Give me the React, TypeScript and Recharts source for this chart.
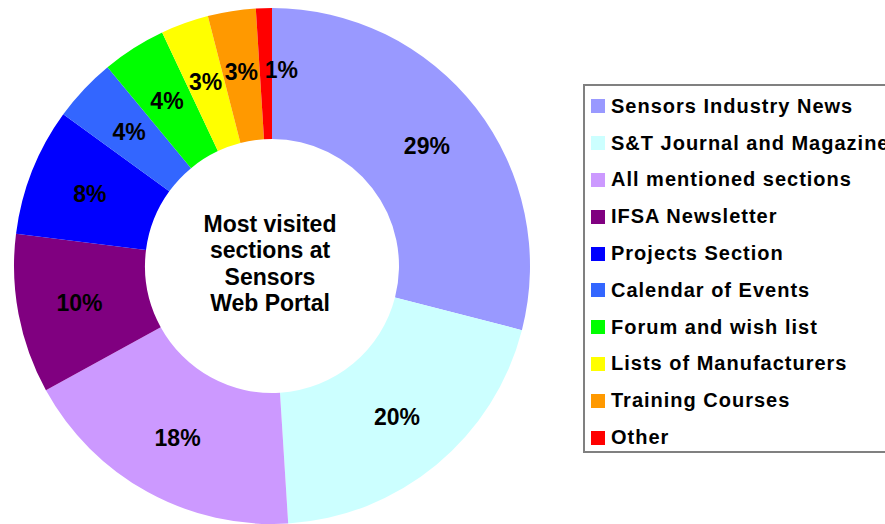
import { PieChart, Pie, Cell } from 'recharts';

const sections = [
  'Sensors Industry News',
  'S&T Journal and Magazine',
  'All mentioned sections',
  'IFSA Newsletter',
  'Projects Section',
  'Calendar of Events',
  'Forum and wish list',
  'Lists of Manufacturers',
  'Training Courses',
  'Other',
];
const shares = [29, 20, 18, 10, 8, 4, 4, 3, 3, 1];
const COLORS = [
  '#9999FF',
  '#CCFFFF',
  '#CC99FF',
  '#800080',
  '#0000FF',
  '#3366FF',
  '#00FF00',
  '#FFFF00',
  '#FF9900',
  '#FF0000',
];
const centerLines = ['Most visited', 'sections at', 'Sensors', 'Web Portal'];

const data = sections.map((name, i) => ({ name, value: shares[i] }));

const FONT = 'Arial, "Liberation Sans", Helvetica, sans-serif';
const RAD = Math.PI / 180;

const renderLabel = (props: any) => {
  const { cx, cy, midAngle, value, percent } = props;
  const r = 196;
  const x = cx + r * Math.cos(-midAngle * RAD);
  const y = cy + r * Math.sin(-midAngle * RAD);
  // very thin slices: push the label off to the side like the original
  const thin = percent < 0.02;
  return (
    <text
      x={thin ? x - 1 : x}
      y={y}
      textAnchor={thin ? 'start' : 'middle'}
      dominantBaseline='central'
      fill='#000'
      fontFamily={FONT}
      fontWeight='bold'
      fontSize={23}
    >
      {`${value}%`}
    </text>
  );
};

export default function App() {
  return (
    <div
      style={{
        position: 'absolute',
        left: 0,
        top: 0,
        width: 885,
        height: 524,
        background: '#fff',
        overflow: 'hidden',
      }}
    >
      <PieChart
        width={885}
        height={524}
        margin={{ top: 0, right: 0, bottom: 0, left: 0 }}
      >
        <Pie
          data={data}
          dataKey='value'
          nameKey='name'
          cx={272}
          cy={266}
          innerRadius={127}
          outerRadius={258}
          startAngle={90}
          endAngle={-270}
          stroke='none'
          label={renderLabel}
          labelLine={false}
          isAnimationActive={false}
        >
          {data.map((_, i) => (
            <Cell key={`cell-${i}`} fill={COLORS[i % COLORS.length]} />
          ))}
        </Pie>
      </PieChart>

      <div
        style={{
          position: 'absolute',
          left: 170,
          top: 211,
          width: 200,
          textAlign: 'center',
          fontFamily: FONT,
          fontWeight: 'bold',
          fontSize: 23,
          lineHeight: '26.3px',
          color: '#000',
        }}
      >
        {centerLines.map((line) => (
          <div key={line}>{line}</div>
        ))}
      </div>

      <div
        style={{
          position: 'absolute',
          left: 583,
          top: 84,
          width: 320,
          height: 369,
          border: '2px solid #808080',
          boxSizing: 'border-box',
          fontFamily: FONT,
          fontWeight: 'bold',
          fontSize: 20,
          letterSpacing: 1,
          color: '#000',
          paddingTop: 2,
        }}
      >
        {sections.map((name, i) => (
          <div
            key={name}
            style={{
              display: 'flex',
              alignItems: 'center',
              height: 36.8,
              whiteSpace: 'nowrap',
            }}
          >
            <span
              style={{
                display: 'inline-block',
                flexShrink: 0,
                width: 14,
                height: 14,
                marginLeft: 6,
                marginRight: 6,
                background: COLORS[i % COLORS.length],
              }}
            />
            <span>{name}</span>
          </div>
        ))}
      </div>
    </div>
  );
}
